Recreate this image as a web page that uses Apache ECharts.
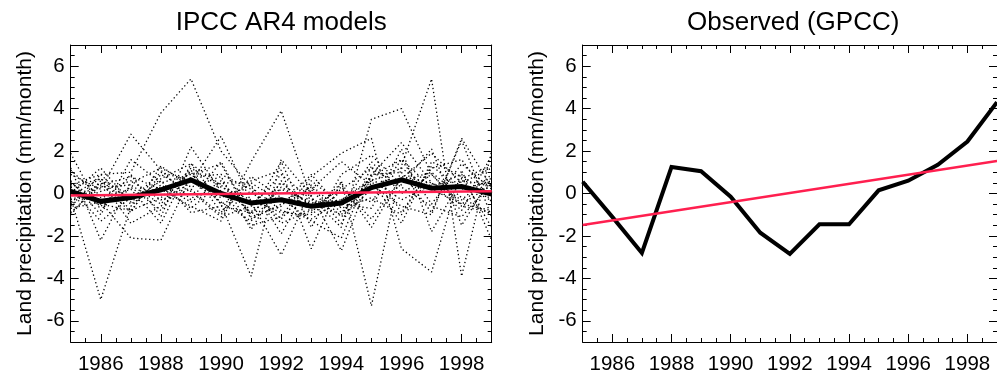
<!DOCTYPE html>
<html><head><meta charset="utf-8">
<script src="https://cdn.jsdelivr.net/npm/echarts@6/dist/echarts.min.js"></script>
<style>html,body{margin:0;padding:0;background:#fff}#c{width:997px;height:375px}</style>
</head><body><div id="c"></div><script>
// ---------- data ----------
const years = [1985,1986,1987,1988,1989,1990,1991,1992,1993,1994,1995,1996,1997,1998,1999];
const xTickYears = [1986,1988,1990,1992,1994,1996,1998];
const yTickValues = [-6,-4,-2,0,2,4,6];

// individual IPCC AR4 model runs (dotted)
const model01 = [0.4, 0.9, 1.0, 3.8, 5.4, 2.0, 0.3, -0.8, -1.2, -0.3, 0.6, 1.2, 0.2, -0.5, 0.4];
const model02 = [-0.2, -5.0, -0.6, 0.7, 1.4, 0.4, -0.9, 0.2, -0.4, -1.0, 0.8, 1.6, 0.3, 0.9, -0.4];
const model03 = [0.9, 0.2, 2.8, 1.1, -0.3, 1.5, -1.1, -0.6, 0.9, -0.7, -0.2, -1.0, 1.3, 0.2, 0.6];
const model04 = [-0.7, -0.4, -2.1, -2.2, 0.8, 0.9, 0.2, -1.4, -0.8, 0.3, -1.2, 0.7, 1.9, 0.5, 1.2];
const model05 = [1.2, -2.2, 0.5, 1.2, 0.5, 2.7, -0.4, -2.9, 0.2, 1.5, 0.4, -0.6, -1.0, 2.6, 0.3];
const model06 = [0.3, 0.7, -0.8, -0.2, 1.0, -0.5, -3.9, 1.6, -0.1, -2.7, 0.9, 2.4, 0.5, -0.8, 1.8];
const model07 = [-0.9, 0.4, 0.8, 0.2, -0.6, -1.3, 1.5, 3.9, -0.2, -1.6, 3.5, 4.0, 0.9, -0.6, -0.9];
const model08 = [-0.5, 0.1, 0.6, -0.3, 0.2, -1.0, 0.6, 1.1, -2.6, 0.6, -5.3, 1.3, 5.4, -3.9, 2.0];
const model09 = [1.9, -0.8, 0.9, -1.1, 2.2, 0.1, -1.5, -1.1, 0.8, 1.9, 2.6, -2.6, -3.7, 1.1, -2.2];
const model10 = [0.0, 1.2, -0.4, 0.6, -0.9, -0.6, -0.9, 1.5, -1.6, 0.9, 1.8, 0.4, 2.1, -1.5, 0.8];
const model11 = [0.6, -1.0, 1.6, 0.5, 0.9, 1.4, -1.2, -0.5, 0.2, -1.4, 0.9, 1.0, -0.9, 2.5, -1.1];
const model12 = [-1.0, 0.6, -1.4, -0.6, 0.6, -0.2, 0.4, -1.9, 0.6, -0.5, -0.7, 2.1, -1.8, 0.7, 1.3];
const model13 = [0.3, -0.6, 0.3, -0.8, 1.1, -0.9, 0.8, -0.2, -1.3, -2.1, 1.3, -0.9, 1.2, 1.6, -0.4];
const model14 = [-0.4, 0.5, -0.9, 1.3, 0.3, 0.8, -1.7, 0.6, -0.9, 0.5, -1.6, 0.8, 0.5, -0.3, 0.9];
const model15 = [1.1, -0.2, 0.2, -1.4, 1.4, -0.5, 0.1, -1.2, 0.4, -0.9, 0.6, -1.4, 1.5, 0.8, -1.6];
const model16 = [-0.6, 0.9, -0.5, 0.4, -0.4, 0.6, -1.0, 0.5, -0.6, 0.2, 1.2, 0.3, -0.6, -1.1, 0.5];
const model17 = [0.5, -0.5, -0.8, 0.9, 0.1, -1.1, -0.6, 0.9, -0.3, -0.6, 1.5, 0.0, 0.9, -0.5, -0.8];
const model18 = [-0.3, 0.3, 0.4, -0.5, 1.2, 0.3, -0.3, -0.9, -1.0, 0.1, -0.4, 1.6, -0.5, 1.4, 0.2];
const model19 = [0.2, -1.3, -0.2, 0.3, -0.7, 0.5, 0.5, -0.4, 0.3, -1.1, 0.2, 0.6, 1.0, -0.2, -1.0];
const model20 = [-0.1, 0.7, -0.3, 1.0, 0.6, -0.4, -1.3, 0.3, -0.5, -0.3, 0.7, -0.3, 0.4, 0.6, 0.4];

// ensemble mean (thick black)
const modelMean = [0.1, -0.37, -0.19, 0.17, 0.64, 0.0, -0.45, -0.3, -0.6, -0.45, 0.28, 0.64, 0.25, 0.33, -0.03];
// linear trend of models (red)
const modelTrendYears = [1985, 1999];
const modelTrend = [-0.09, 0.11];

// observed GPCC (thick black)
const observed = [0.55, -1.1, -2.8, 1.25, 1.05, -0.15, -1.85, -2.85, -1.45, -1.45, 0.15, 0.6, 1.35, 2.45, 4.3];
// observed trend (red)
const observedTrendYears = [1985, 1999];
const observedTrend = [-1.48, 1.53];

const modelRuns = [model01,model02,model03,model04,model05,model06,model07,model08,model09,model10,
                   model11,model12,model13,model14,model15,model16,model17,model18,model19,model20];

// ---------- chart ----------
const FONT = '"Liberation Sans", Arial, Helvetica, sans-serif';
const RED = '#ff1f4f';
const pairs = (xs, ys) => xs.map((x, i) => [x, ys[i]]);
const plain = v => String(v);

const grids = [
  {left: 70.7, top: 45, width: 421, height: 300},
  {left: 582.7, top: 45, width: 421, height: 300}
];

const xAxes = [], yAxes = [];
grids.forEach((g, gi) => {
  // 0: bottom major (labels), 1: bottom minor, 2: top major, 3: top minor
  xAxes.push({gridIndex: gi, type: 'value', min: 1985, max: 1999, position: 'bottom',
    axisLine: {show: true, onZero: false, lineStyle: {color: '#000', width: 1}},
    axisTick: {show: true, inside: true, length: 8, customValues: xTickYears, lineStyle: {color: '#000', width: 1}},
    axisLabel: {show: true, customValues: xTickYears, formatter: plain, fontSize: 20.5, fontFamily: FONT, color: '#000', margin: 12},
    splitLine: {show: false}});
  xAxes.push({gridIndex: gi, type: 'value', min: 1985, max: 1999, interval: 0.5, position: 'bottom',
    axisLine: {show: false, onZero: false},
    axisTick: {show: true, inside: true, length: 4, lineStyle: {color: '#000', width: 1}},
    axisLabel: {show: false}, splitLine: {show: false}});
  xAxes.push({gridIndex: gi, type: 'value', min: 1985, max: 1999, position: 'top',
    axisLine: {show: true, onZero: false, lineStyle: {color: '#000', width: 1}},
    axisTick: {show: true, inside: true, length: 8, customValues: xTickYears, lineStyle: {color: '#000', width: 1}},
    axisLabel: {show: false}, splitLine: {show: false}});
  xAxes.push({gridIndex: gi, type: 'value', min: 1985, max: 1999, interval: 0.5, position: 'top',
    axisLine: {show: false, onZero: false},
    axisTick: {show: true, inside: true, length: 4, lineStyle: {color: '#000', width: 1}},
    axisLabel: {show: false}, splitLine: {show: false}});

  yAxes.push({gridIndex: gi, type: 'value', min: -7, max: 7, position: 'left',
    name: 'Land precipitation (mm/month)', nameLocation: 'middle', nameGap: 35, nameRotate: 90,
    nameTextStyle: {fontSize: 21, fontFamily: FONT, color: '#000'},
    axisLine: {show: true, onZero: false, lineStyle: {color: '#000', width: 1}},
    axisTick: {show: true, inside: true, length: 8, customValues: yTickValues, lineStyle: {color: '#000', width: 1}},
    axisLabel: {show: true, customValues: yTickValues, formatter: plain, fontSize: 20.5, fontFamily: FONT, color: '#000', margin: 6},
    splitLine: {show: false}});
  yAxes.push({gridIndex: gi, type: 'value', min: -7, max: 7, interval: 0.5, position: 'left',
    axisLine: {show: false, onZero: false},
    axisTick: {show: true, inside: true, length: 4, lineStyle: {color: '#000', width: 1}},
    axisLabel: {show: false}, splitLine: {show: false}});
  yAxes.push({gridIndex: gi, type: 'value', min: -7, max: 7, position: 'right',
    axisLine: {show: true, onZero: false, lineStyle: {color: '#000', width: 1}},
    axisTick: {show: true, inside: true, length: 8, customValues: yTickValues, lineStyle: {color: '#000', width: 1}},
    axisLabel: {show: false}, splitLine: {show: false}});
  yAxes.push({gridIndex: gi, type: 'value', min: -7, max: 7, interval: 0.5, position: 'right',
    axisLine: {show: false, onZero: false},
    axisTick: {show: true, inside: true, length: 4, lineStyle: {color: '#000', width: 1}},
    axisLabel: {show: false}, splitLine: {show: false}});
});

const series = [];
modelRuns.forEach((run, i) => {
  series.push({type: 'line', name: 'model' + (i + 1), xAxisIndex: 0, yAxisIndex: 0,
    data: pairs(years, run), showSymbol: false, symbol: 'none', silent: true, z: 1,
    lineStyle: {color: '#000', width: 1.3, type: [1.3, 2.7]}});
});
series.push({type: 'line', name: 'Model mean', xAxisIndex: 0, yAxisIndex: 0,
  data: pairs(years, modelMean), symbol: 'none', z: 3,
  lineStyle: {color: '#000', width: 5, join: 'miter'}});
series.push({type: 'line', name: 'Model trend', xAxisIndex: 0, yAxisIndex: 0,
  data: pairs(modelTrendYears, modelTrend), symbol: 'none', z: 4,
  lineStyle: {color: RED, width: 2.5}});
series.push({type: 'line', name: 'Observed', xAxisIndex: 4, yAxisIndex: 4,
  data: pairs(years, observed), symbol: 'none', z: 3,
  lineStyle: {color: '#000', width: 4, join: 'miter'}});
series.push({type: 'line', name: 'Observed trend', xAxisIndex: 4, yAxisIndex: 4,
  data: pairs(observedTrendYears, observedTrend), symbol: 'none', z: 4,
  lineStyle: {color: RED, width: 2.5}});

const chart = echarts.init(document.getElementById('c'), null, {renderer: 'canvas'});
chart.setOption({
  animation: false,
  backgroundColor: '#fff',
  grid: grids,
  xAxis: xAxes,
  yAxis: yAxes,
  graphic: [
    {type: 'text', x: 281.2, y: 23, style: {text: 'IPCC AR4 models', font: '26px ' + FONT, fill: '#000',
      textAlign: 'center', align: 'center', textVerticalAlign: 'middle', verticalAlign: 'middle'}},
    {type: 'text', x: 793.2, y: 23, style: {text: 'Observed (GPCC)', font: '26px ' + FONT, fill: '#000',
      textAlign: 'center', align: 'center', textVerticalAlign: 'middle', verticalAlign: 'middle'}}
  ],
  series: series
});
</script></body></html>
